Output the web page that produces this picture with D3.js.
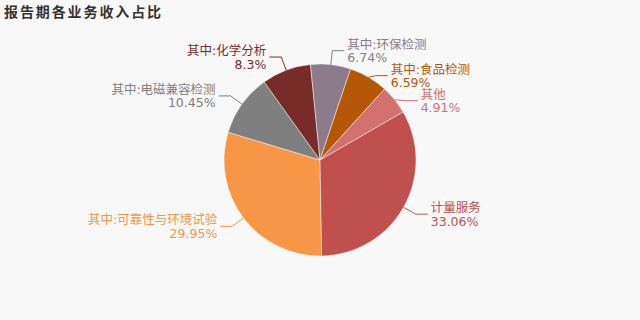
<!DOCTYPE html>
<html>
<head>
<meta charset="utf-8">
<script src="https://cdn.jsdelivr.net/npm/d3@7"></script>
<style>
  body { margin: 0; background: #f8f8f8; }
  svg { display: block; }
</style>
</head>
<body>
<script>
// Slice names, clockwise from the bottom of the pie
const categories = [
  "其中:可靠性与环境试验",
  "其中:电磁兼容检测",
  "其中:化学分析",
  "其中:环保检测",
  "其中:食品检测",
  "其他",
  "计量服务"
];
// Share of revenue, percent
const shares = [29.95, 10.45, 8.3, 6.74, 6.59, 4.91, 33.06];
const shareLabels = ["29.95%", "10.45%", "8.3%", "6.74%", "6.59%", "4.91%", "33.06%"];
const colors = ["#f79646", "#7f7f7f", "#772c2a", "#8b7b8b", "#b65708", "#d2716e", "#c0504d"];

(() => {
  const width = 640;
  const height = 320;
  const cx = 320;
  const cy = 160;
  const radius = 96;
  const len1 = 14; // radial part of the leader line
  const len2 = 12; // horizontal part
  const minGap = 25; // vertical room one label needs

  const svg = d3
    .select("body")
    .append("svg")
    .attr("width", width)
    .attr("height", height);

  // Title
  svg
    .append("text")
    .attr("x", 4)
    .attr("y", 17)
    .attr("font-family", "'Noto Sans CJK SC', sans-serif")
    .attr("font-size", 14)
    .attr("font-weight", "bold")
    .attr("letter-spacing", 1.9)
    .attr("fill", "#333")
    .text("报告期各业务收入占比");

  const data = categories.map((name, i) => ({
    name,
    value: shares[i],
    label: shareLabels[i],
    color: colors[i]
  }));

  // Pie starts just left of 6 o'clock and runs clockwise
  const start = (179 * Math.PI) / 180;
  const pie = d3
    .pie()
    .value((d) => d.value)
    .sort(null)
    .startAngle(start)
    .endAngle(start + 2 * Math.PI);

  const arc = d3.arc().innerRadius(0).outerRadius(radius);
  const arcs = pie(data);

  const g = svg.append("g").attr("transform", `translate(${cx},${cy})`);

  g.selectAll("path.slice")
    .data(arcs)
    .enter()
    .append("path")
    .attr("class", "slice")
    .attr("d", arc)
    .attr("fill", (d) => d.data.color)
    .attr("stroke", "#f8f8f8")
    .attr("stroke-width", 0.5);

  // Leader line geometry
  const labels = arcs.map((d) => {
    const a = (d.startAngle + d.endAngle) / 2;
    const sx = Math.sin(a);
    const sy = -Math.cos(a);
    return {
      d,
      right: sx >= 0,
      p0: [sx * radius, sy * radius],
      bx: sx * (radius + len1),
      by: sy * (radius + len1)
    };
  });

  // Push overlapping labels apart on each side
  [true, false].forEach((side) => {
    const list = labels.filter((l) => l.right === side).sort((a, b) => a.by - b.by);
    for (let i = 1; i < list.length; i++) {
      if (list[i].by - list[i - 1].by < minGap) list[i].by = list[i - 1].by + minGap;
    }
  });

  const line = d3.line();

  g.selectAll("path.leader")
    .data(labels)
    .enter()
    .append("path")
    .attr("class", "leader")
    .attr("d", (l) => {
      const ex = l.bx + (l.right ? len2 : -len2);
      return line([l.p0, [l.bx, l.by], [ex, l.by]]);
    })
    .attr("fill", "none")
    .attr("stroke", (l) => l.d.data.color)
    .attr("stroke-width", 1);

  const text = g
    .selectAll("text.label")
    .data(labels)
    .enter()
    .append("text")
    .attr("class", "label")
    .attr("font-family", "'DejaVu Sans', 'Noto Sans CJK SC', sans-serif")
    .attr("font-size", 12.5)
    .attr("fill", (l) => l.d.data.color)
    .attr("text-anchor", (l) => (l.right ? "start" : "end"));

  const tx = (l) => l.bx + (l.right ? len2 + 3 : -len2 - 3);

  text
    .append("tspan")
    .attr("x", tx)
    .attr("y", (l) => l.by - 2)
    .text((l) => l.d.data.name);

  text
    .append("tspan")
    .attr("x", tx)
    .attr("y", (l) => l.by + 11.5)
    .text((l) => l.d.data.label);
})();
</script>
</body>
</html>
